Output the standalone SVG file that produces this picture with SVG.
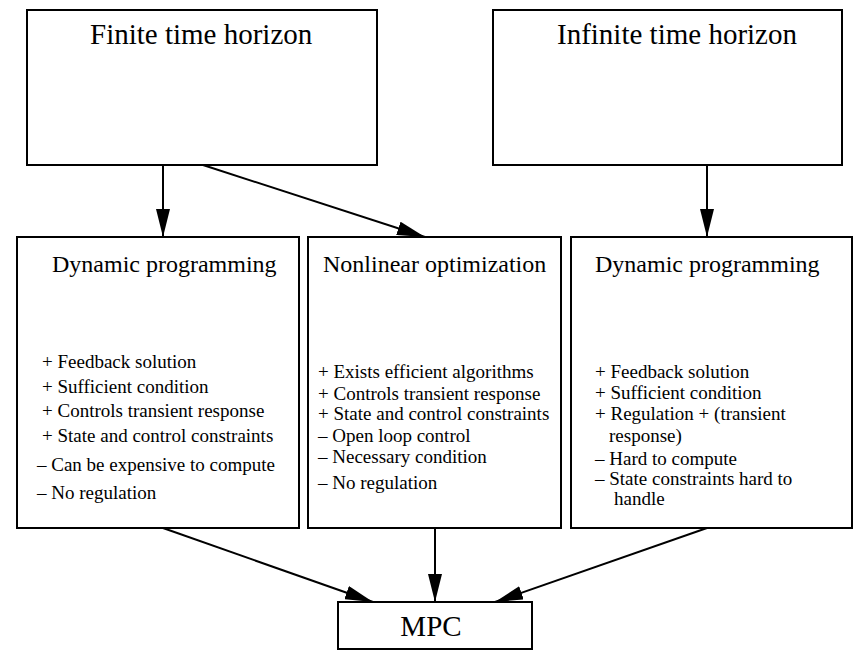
<svg xmlns="http://www.w3.org/2000/svg" width="855" height="651" viewBox="0 0 855 651">
<defs>
<marker id="ah" markerUnits="userSpaceOnUse" markerWidth="28" markerHeight="14" refX="28" refY="7" orient="auto">
<path d="M0,0 L28,7 L0,14 z" fill="#000"/>
</marker>
<style>
.box{fill:#fff;stroke:#000;stroke-width:2}
.t{font-family:"Liberation Serif","Times New Roman",serif;fill:#000}
.big{font-size:29px}
.mid{font-size:24px}
.sm{font-size:19px}
.e{stroke:#000;stroke-width:2;fill:none;marker-end:url(#ah)}
</style>
</defs>
<rect width="855" height="651" fill="#fff"/>
<g id="connectors">
<line class="e" x1="163" y1="165" x2="163" y2="237"/>
<line class="e" x1="203" y1="165" x2="425" y2="237"/>
<line class="e" x1="707" y1="165" x2="707" y2="237"/>
<line class="e" x1="163" y1="528" x2="373" y2="602"/>
<line class="e" x1="435" y1="528" x2="435" y2="602"/>
<line class="e" x1="707" y1="528" x2="495" y2="602"/>
</g>
<g id="finite">
<rect class="box" x="27" y="10" width="350" height="155"/>
<text class="t big" x="90" y="44">Finite time horizon</text>
</g>
<g id="infinite">
<rect class="box" x="493" y="10" width="349" height="155"/>
<text class="t big" x="557" y="44">Infinite time horizon</text>
</g>
<g id="dp-finite">
<rect class="box" x="17" y="237" width="282" height="291"/>
<text class="t mid" x="52" y="272">Dynamic programming</text>
<text class="t sm">
<tspan x="42" y="368">+ Feedback solution</tspan>
<tspan x="42" y="393">+ Sufficient condition</tspan>
<tspan x="42" y="417">+ Controls transient response</tspan>
<tspan x="42" y="442">+ State and control constraints</tspan>
<tspan x="37" y="471">– Can be expensive to compute</tspan>
<tspan x="37" y="499">– No regulation</tspan>
</text>
</g>
<g id="nlp">
<rect class="box" x="308" y="237" width="253" height="291"/>
<text class="t mid" x="323" y="272">Nonlinear optimization</text>
<text class="t sm">
<tspan x="318" y="378">+ Exists efficient algorithms</tspan>
<tspan x="318" y="400">+ Controls transient response</tspan>
<tspan x="318" y="420">+ State and control constraints</tspan>
<tspan x="318" y="442">– Open loop control</tspan>
<tspan x="318" y="463">– Necessary condition</tspan>
<tspan x="318" y="489">– No regulation</tspan>
</text>
</g>
<g id="dp-infinite">
<rect class="box" x="571" y="237" width="281" height="291"/>
<text class="t mid" x="595" y="272">Dynamic programming</text>
<text class="t sm">
<tspan x="595" y="378">+ Feedback solution</tspan>
<tspan x="595" y="399">+ Sufficient condition</tspan>
<tspan x="595" y="420">+ Regulation + (transient</tspan>
<tspan x="609" y="442">response)</tspan>
<tspan x="595" y="465">– Hard to compute</tspan>
<tspan x="595" y="485">– State constraints hard to</tspan>
<tspan x="614" y="505">handle</tspan>
</text>
</g>
<g id="mpc">
<rect class="box" x="338" y="602" width="194" height="47"/>
<text class="t big" x="431" y="636" text-anchor="middle">MPC</text>
</g>
</svg>
